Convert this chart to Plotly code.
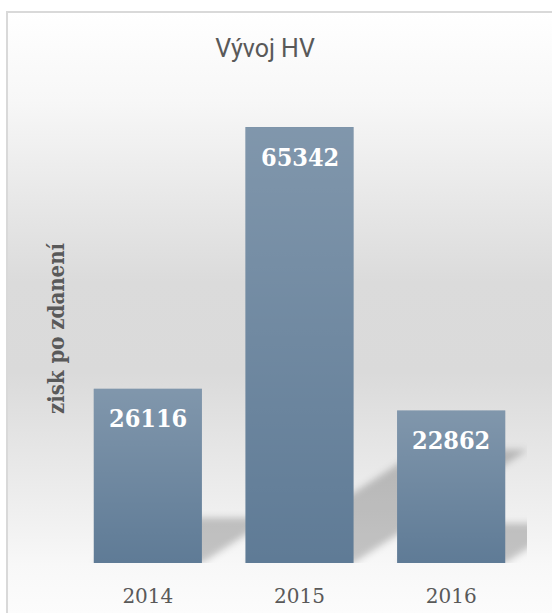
import base64
import plotly.graph_objects as go

# ---- data ----
years = ["2014", "2015", "2016"]
values = [26116, 65342, 22862]
title_text = "Vývoj HV"
y_title = "zisk po zdanení"

W, H = 552, 613
ML, MR, MT, MB = 72, 25, 96, 50
BARGAP = 0.287
YMAX = 70000
PW = W - ML - MR
PH = H - MT - MB
PX_PER_CAT = PW / len(years)
PX_PER_Y = PH / YMAX


def svg_uri(svg):
    return "data:image/svg+xml;base64," + base64.b64encode(svg.encode()).decode()


# chart-area background gradient with left/top border
bg_svg = (
    '<svg xmlns="http://www.w3.org/2000/svg" width="546" height="602" viewBox="0 0 546 602" preserveAspectRatio="none">'
    '<defs><linearGradient id="g" x1="0" y1="0" x2="0" y2="1">'
    '<stop offset="0" stop-color="#ffffff"/>'
    '<stop offset="0.15" stop-color="#f7f7f7"/>'
    '<stop offset="0.31" stop-color="#e8e8e8"/>'
    '<stop offset="0.45" stop-color="#dbdbdb"/>'
    '<stop offset="0.60" stop-color="#dadada"/>'
    '<stop offset="0.73" stop-color="#e6e6e6"/>'
    '<stop offset="0.85" stop-color="#f1f1f1"/>'
    '<stop offset="0.92" stop-color="#f8f8f8"/>'
    '<stop offset="1" stop-color="#fcfcfc"/>'
    '</linearGradient></defs>'
    '<rect x="0" y="0" width="546" height="602" fill="url(#g)"/>'
    '<rect x="1" y="1" width="600" height="700" fill="none" stroke="#d9d9d9" stroke-width="2"/>'
    '</svg>'
)

bar_svg = (
    '<svg xmlns="http://www.w3.org/2000/svg" width="100" height="100" viewBox="0 0 100 100" preserveAspectRatio="none">'
    '<defs><linearGradient id="b" x1="0" y1="0" x2="0" y2="1">'
    '<stop offset="0" stop-color="#ffffff" stop-opacity="0.21"/>'
    '<stop offset="1" stop-color="#ffffff" stop-opacity="0"/>'
    '</linearGradient></defs>'
    '<rect x="0" y="0" width="100" height="100" fill="url(#b)"/>'
    '</svg>'
)

SH_SCALE = 0.26   # shadow height relative to bar height
SH_SLOPE = 0.65   # rise / run of the shadow skew
PAD = 12          # blur padding, px


def shadow_svg(bar_w_px, sh_px):
    d = sh_px / SH_SLOPE
    w = bar_w_px + d + 2 * PAD
    h = sh_px + 2 * PAD
    x0, x1 = PAD, PAD + bar_w_px
    yb, yt = PAD + sh_px, PAD
    pts = f"{x0},{yb} {x1},{yb} {x1 + d},{yt} {x0 + d},{yt}"
    svg = (
        f'<svg xmlns="http://www.w3.org/2000/svg" width="{w:.1f}" height="{h:.1f}" '
        f'viewBox="0 0 {w:.1f} {h:.1f}" preserveAspectRatio="none">'
        '<defs><filter id="f" x="-50%" y="-50%" width="200%" height="200%">'
        '<feGaussianBlur stdDeviation="3.5"/></filter></defs>'
        f'<polygon points="{pts}" fill="#000000" fill-opacity="0.21" filter="url(#f)"/>'
        '</svg>'
    )
    return svg, w, h


fig = go.Figure()
fig.add_trace(go.Bar(
    x=list(range(len(years))),
    y=values,
    marker=dict(color="#5f7b96", line=dict(width=0)),
    hoverinfo="skip",
))

images = [dict(
    source=svg_uri(bg_svg), xref="paper", yref="paper",
    x=(6 - ML) / PW, y=(H - MB - 11) / PH,
    sizex=546 / PW, sizey=602 / PH,
    xanchor="left", yanchor="top", sizing="stretch", layer="below",
)]
bw = 1 - BARGAP
for i, v in enumerate(values):
    sh_px = SH_SCALE * v * PX_PER_Y
    svg, w_px, h_px = shadow_svg(bw * PX_PER_CAT, sh_px)
    images.append(dict(
        source=svg_uri(svg), xref="x", yref="y",
        x=i - bw / 2 - PAD / PX_PER_CAT, y=-PAD / PX_PER_Y,
        sizex=w_px / PX_PER_CAT, sizey=h_px / PX_PER_Y,
        xanchor="left", yanchor="bottom", sizing="stretch", layer="below",
    ))
for i, v in enumerate(values):
    images.append(dict(
        source=svg_uri(bar_svg), xref="x", yref="y",
        x=i - bw / 2, y=v, sizex=bw, sizey=v,
        xanchor="left", yanchor="top", sizing="stretch", layer="above",
    ))

annotations = []
for i, v in enumerate(values):
    annotations.append(dict(
        x=i, y=v, xref="x", yref="y", text=f"<b>{v}</b>", showarrow=False,
        yanchor="middle", yshift=-30,
        font=dict(family="DejaVu Serif Condensed", size=25, color="#ffffff"),
    ))
annotations.append(dict(
    x=(56 - ML) / PW, y=0.503, xref="paper", yref="paper", text=f"<b>{y_title}</b>",
    showarrow=False, textangle=-90, xanchor="center", yanchor="middle",
    font=dict(family="DejaVu Serif Condensed", size=22, color="#595959"),
))

fig.update_layout(
    width=W, height=H,
    margin=dict(l=ML, r=MR, t=MT, b=MB, pad=0),
    paper_bgcolor="#ffffff", plot_bgcolor="rgba(0,0,0,0)",
    bargap=BARGAP, showlegend=False,
    title=dict(text=title_text, x=265 / W, y=(H - 48) / H, xref="container", yref="container",
               xanchor="center", yanchor="middle",
               font=dict(family="Roboto", size=25, color="#595959")),
    images=images, annotations=annotations,
    xaxis=dict(
        tickmode="array", tickvals=list(range(len(years))), ticktext=years,
        range=[-0.5, len(years) - 0.5], showgrid=False, zeroline=False, showline=False,
        ticks="outside", ticklen=15, tickcolor="rgba(0,0,0,0)", automargin=False,
        tickfont=dict(family="DejaVu Serif", size=20, color="#595959"),
    ),
    yaxis=dict(range=[0, YMAX], showgrid=False, zeroline=False, showline=False,
               showticklabels=False, ticks="", automargin=False),
)

fig.write_html("out.html", config={"displayModeBar": False},
               post_script="document.body.style.margin='0';")
